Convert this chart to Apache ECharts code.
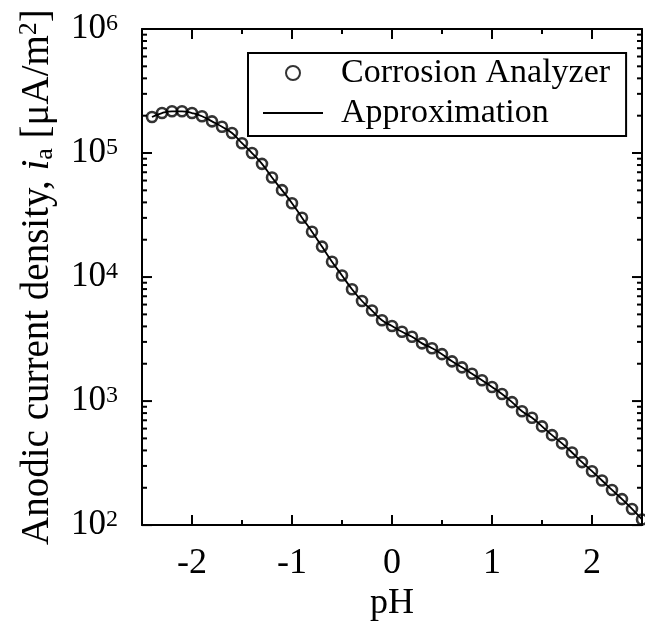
<!DOCTYPE html>
<html>
<head>
<meta charset="utf-8">
<script src="https://cdn.jsdelivr.net/npm/echarts@6/dist/echarts.min.js"></script>
<style>html,body{margin:0;padding:0;background:#fff}#c{width:645px;height:627px}</style>
</head>
<body>
<div id="c"></div>
<script>
// pH values of the measured points
const pH = [-2.4,-2.3,-2.2,-2.1,-2.0,-1.9,-1.8,-1.7,-1.6,-1.5,-1.4,-1.3,-1.2,-1.1,-1.0,-0.9,-0.8,-0.7,-0.6,-0.5,-0.4,-0.3,-0.2,-0.1,0.0,0.1,0.2,0.3,0.4,0.5,0.6,0.7,0.8,0.9,1.0,1.1,1.2,1.3,1.4,1.5,1.6,1.7,1.8,1.9,2.0,2.1,2.2,2.3,2.4,2.5];
// Corrosion Analyzer anodic current density [uA/m2]
const analyzer = [195000,210000,217000,217000,210000,198000,180000,163000,145000,120000,100000,81800,63500,50200,39400,30100,23200,17600,13300,10300,7980,6410,5370,4480,4030,3620,3300,2920,2670,2390,2090,1870,1660,1470,1300,1140,980,828,733,625,531,456,385,322,272,229,192,162,135,111];
// Approximation curve (follows measured points)
const approximation = [195000,210000,217000,217000,210000,198000,180000,163000,145000,120000,100000,81800,63500,50200,39400,30100,23200,17600,13300,10300,7980,6410,5370,4480,4030,3620,3300,2920,2670,2390,2090,1870,1660,1470,1300,1140,980,828,733,625,531,456,385,322,272,229,192,162,135,111];
// tick positions / labels
const xMajorTicks = [-2,-1,0,1,2];
const xMinorTicks = [-1.5,-0.5,0.5,1.5];
const yMajorTicks = [100,1000,10000,100000,1000000];
const yMinorMantissas = [2,3,4,5,6,7,8,9];

const FONT = 'Liberation Serif';
const X_MIN = -2.5, X_MAX = 2.5, Y_MIN = 100, Y_MAX = 1000000;
const MAJOR_LEN = 10, MINOR_LEN = 5;
const yMinorTicks = [];
yMajorTicks.slice(0, -1).forEach(d => yMinorMantissas.forEach(m => yMinorTicks.push(d * m)));

// tick items: [x, y, length]
const xTickItems = xMajorTicks.map(v => [v, Y_MIN, MAJOR_LEN]).concat(xMinorTicks.map(v => [v, Y_MIN, MINOR_LEN]));
const yTickItems = yMajorTicks.map(v => [X_MIN, v, MAJOR_LEN]).concat(yMinorTicks.map(v => [X_MIN, v, MINOR_LEN]));

const tickStroke = {stroke:'#000', lineWidth:2};
function xTickRender(params, api) {
  const x = api.value(0), len = api.value(2);
  const pb = api.coord([x, Y_MIN]);
  const pt = api.coord([x, Y_MAX]);
  return {type:'group', children:[
    {type:'line', shape:{x1:pb[0], y1:pb[1], x2:pb[0], y2:pb[1] - len}, style:tickStroke},
    {type:'line', shape:{x1:pt[0], y1:pt[1], x2:pt[0], y2:pt[1] + len}, style:tickStroke}
  ]};
}
function yTickRender(params, api) {
  const y = api.value(1), len = api.value(2);
  const pl = api.coord([X_MIN, y]);
  const pr = api.coord([X_MAX, y]);
  return {type:'group', children:[
    {type:'line', shape:{x1:pl[0], y1:pl[1], x2:pl[0] + len, y2:pl[1]}, style:tickStroke},
    {type:'line', shape:{x1:pr[0], y1:pr[1], x2:pr[0] - len, y2:pr[1]}, style:tickStroke}
  ]};
}

const chart = echarts.init(document.getElementById('c'));
chart.setOption({
  animation:false,
  grid:{left:142, right:3, top:29, bottom:94},
  xAxis:[
    {
      type:'value', min:X_MIN, max:X_MAX, position:'bottom', splitLine:{show:false},
      axisLine:{show:true, onZero:false, lineStyle:{color:'#000', width:2}},
      axisTick:{show:false},
      axisLabel:{show:true, customValues:xMajorTicks, fontFamily:FONT, fontSize:36, color:'#000', margin:20},
      name:'pH', nameLocation:'middle', nameGap:58,
      nameTextStyle:{fontFamily:FONT, fontSize:36, color:'#000'}
    },
    {
      type:'value', min:X_MIN, max:X_MAX, position:'top', splitLine:{show:false},
      axisLine:{show:true, onZero:false, lineStyle:{color:'#000', width:2}},
      axisTick:{show:false}, axisLabel:{show:false}
    }
  ],
  yAxis:[
    {
      type:'log', logBase:10, min:Y_MIN, max:Y_MAX, position:'left', splitLine:{show:false},
      axisLine:{show:true, onZero:false, lineStyle:{color:'#000', width:2}},
      axisTick:{show:false},
      axisLabel:{
        show:true, customValues:yMajorTicks, margin:24, color:'#000',
        formatter: v => '{b|10}{s|' + Math.round(Math.log10(v)) + '}',
        rich:{
          b:{fontFamily:FONT, fontSize:35, color:'#000'},
          s:{fontFamily:FONT, fontSize:24, color:'#000', padding:[0,0,11,0]}
        }
      },
      name:'Anodic current density, {i|i}{sub|a} [μA/m{sup|2}]',
      nameLocation:'middle', nameGap:82,
      nameTextStyle:{
        fontFamily:FONT, fontSize:39, color:'#000',
        rich:{
          i:{fontFamily:FONT, fontSize:39, fontStyle:'italic', color:'#000'},
          sub:{fontFamily:FONT, fontSize:26, color:'#000', padding:[14,0,0,0]},
          sup:{fontFamily:FONT, fontSize:26, color:'#000', padding:[0,0,18,0]}
        }
      }
    },
    {
      type:'log', logBase:10, min:Y_MIN, max:Y_MAX, position:'right', splitLine:{show:false},
      axisLine:{show:true, onZero:false, lineStyle:{color:'#000', width:2}},
      axisTick:{show:false}, axisLabel:{show:false}
    }
  ],
  legend:{
    orient:'vertical', left:248, top:53,
    borderColor:'#000', borderWidth:2, borderRadius:0,
    padding:[3,16,6,14], itemGap:6,
    itemWidth:60, itemHeight:14,
    textStyle:{fontFamily:FONT, fontSize:34, color:'#000', padding:[0,0,0,13]},
    data:['Corrosion Analyzer','Approximation']
  },
  series:[
    {
      name:'xTicks', type:'custom', coordinateSystem:'cartesian2d', xAxisIndex:0, yAxisIndex:0,
      encode:{x:0, y:1}, data:xTickItems, renderItem:xTickRender, silent:true, clip:false, z:4
    },
    {
      name:'yTicks', type:'custom', coordinateSystem:'cartesian2d', xAxisIndex:0, yAxisIndex:0,
      encode:{x:0, y:1}, data:yTickItems, renderItem:yTickRender, silent:true, clip:false, z:4
    },
    {
      name:'Approximation', type:'line', xAxisIndex:0, yAxisIndex:0,
      data: pH.map((x,i)=>[x, approximation[i]]),
      smooth:true, showSymbol:false, symbol:'none',
      lineStyle:{color:'#000', width:1.8}, itemStyle:{color:'#000', opacity:0}, z:2
    },
    {
      name:'Corrosion Analyzer', type:'scatter', xAxisIndex:0, yAxisIndex:0,
      data: pH.map((x,i)=>[x, analyzer[i]]),
      symbol:'circle', symbolSize:10,
      itemStyle:{color:'rgba(0,0,0,0)', borderColor:'#000', borderWidth:2.6}, z:3
    }
  ]
});
</script>
</body>
</html>
